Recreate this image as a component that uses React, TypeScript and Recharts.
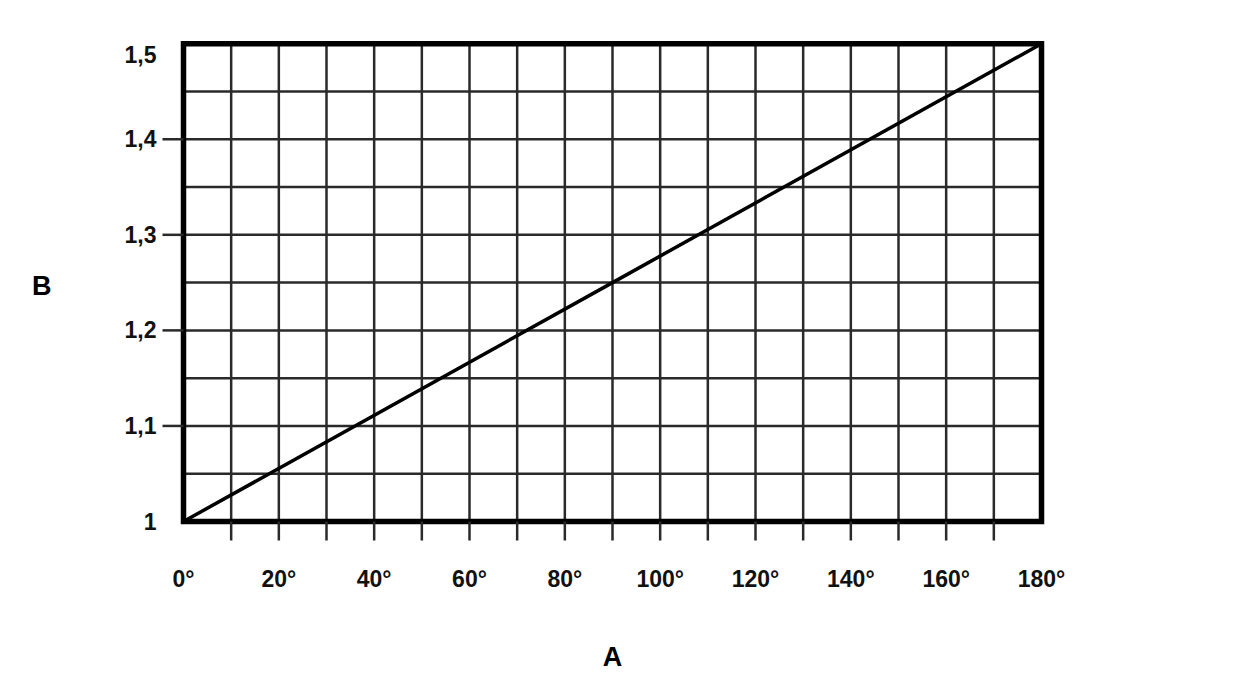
import { LineChart, Line, XAxis, YAxis, CartesianGrid, ReferenceArea } from "recharts"

// angle in degrees vs factor
const angles = [0, 90, 180]
const factors = [1, 1.25, 1.5]

const xTicks = [0, 10, 20, 30, 40, 50, 60, 70, 80, 90, 100, 110, 120, 130, 140, 150, 160, 170, 180]
const yTicks = [1, 1.05, 1.1, 1.15, 1.2, 1.25, 1.3, 1.35, 1.4, 1.45, 1.5]
const yLabelled = [1, 1.1, 1.2, 1.3, 1.4, 1.5]

const data = angles.map((a, i) => ({ angle: a, value: factors[i] }))

const font = "'Liberation Sans', Arial, Helvetica, sans-serif"
const gridColor = "#2a2a2a"

const XTick = (props: any) => {
  const { x, y, payload } = props
  const v = payload.value
  return (
    <g>
      {v > 0 && v < 180 && <line x1={x} x2={x} y1={y} y2={y + 19} stroke={gridColor} strokeWidth={2.5} />}
      {v % 20 === 0 && (
        <text x={x} y={y + 65} textAnchor="middle" fontFamily={font} fontWeight="bold" fontSize={23} fill="#111">
          {v}°
        </text>
      )}
    </g>
  )
}

const YTick = (props: any) => {
  const { x, y, payload } = props
  const v = payload.value
  const major = yLabelled.some((t) => Math.abs(t - v) < 1e-6)
  if (!major) return <g />
  const isEnd = Math.abs(v - 1) < 1e-6 || Math.abs(v - 1.5) < 1e-6
  const label = String(v).replace(".", ",")
  return (
    <g>
      {!isEnd && <line x1={x - 21} x2={x} y1={y} y2={y} stroke={gridColor} strokeWidth={2.5} />}
      <text
        x={x - 27}
        y={y + (Math.abs(v - 1.5) < 1e-6 ? 19 : 8)}
        textAnchor="end"
        fontFamily={font}
        fontWeight="bold"
        fontSize={23}
        fill="#111"
      >
        {label}
      </text>
    </g>
  )
}

export default function App() {
  return (
    <div style={{ width: 1241, height: 684, background: "#fff" }}>
      <LineChart width={1241} height={684} data={data} margin={{ top: 35.7, right: 207.5, left: 0, bottom: 20.5 }}>
        <CartesianGrid stroke={gridColor} strokeWidth={2.5} />
        <XAxis
          dataKey="angle"
          type="number"
          domain={[0, 180]}
          ticks={xTicks}
          interval={0}
          height={150}
          tickSize={0}
          tickMargin={0}
          axisLine={false}
          tickLine={false}
          tick={<XTick />}
          label={{
            value: "A",
            position: "insideBottom",
            offset: 6,
            style: { fontFamily: font, fontWeight: "bold", fontSize: 27, fill: "#000" },
          }}
        />
        <YAxis
          type="number"
          domain={[1, 1.5]}
          ticks={yTicks}
          interval={0}
          width={175.5}
          tickSize={0}
          tickMargin={0}
          axisLine={false}
          tickLine={false}
          tick={<YTick />}
          label={{
            value: "B",
            position: "insideLeft",
            offset: 24,
            dy: 3,
            style: { fontFamily: font, fontWeight: "bold", fontSize: 27, fill: "#000" },
          }}
        />
        <ReferenceArea x1={0} x2={180} y1={1} y2={1.5} fill="none" stroke="#000" strokeWidth={5.5} />
        <Line
          type="linear"
          dataKey="value"
          stroke="#000"
          strokeWidth={3.5}
          dot={false}
          activeDot={false}
          isAnimationActive={false}
        />
      </LineChart>
    </div>
  )
}
